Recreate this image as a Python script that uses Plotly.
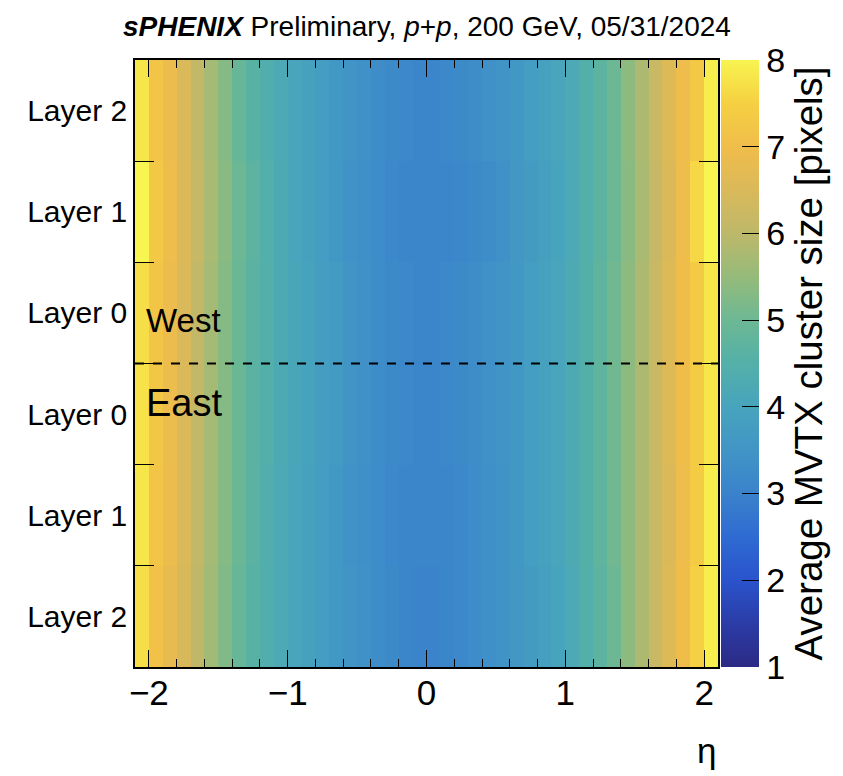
import plotly.graph_objects as go

# eta bin centres (bin width 0.1, range -2.1 .. 2.1)
eta_centers = [-2.05, -1.95, -1.85, -1.75, -1.65, -1.55, -1.45, -1.35, -1.25, -1.15, -1.05,
               -0.95, -0.85, -0.75, -0.65, -0.55, -0.45, -0.35, -0.25, -0.15, -0.05,
               0.05, 0.15, 0.25, 0.35, 0.45, 0.55, 0.65, 0.75, 0.85, 0.95,
               1.05, 1.15, 1.25, 1.35, 1.45, 1.55, 1.65, 1.75, 1.85, 1.95, 2.05]

row_labels = ["Layer 2", "Layer 1", "Layer 0", "Layer 0", "Layer 1", "Layer 2"]  # bottom -> top

east_layer2 = [7.7, 7.1, 6.8, 6.45, 6.05, 5.65, 5.25, 4.9, 4.6, 4.4, 4.2,
               4.05, 3.9, 3.75, 3.6, 3.5, 3.4, 3.3, 3.2, 3.1, 3.05,
               3.05, 3.1, 3.15, 3.25, 3.35, 3.45, 3.55, 3.7, 3.85, 4.0,
               4.2, 4.45, 4.7, 5.0, 5.4, 5.8, 6.2, 6.6, 7.0, 7.5, 7.9]
east_layer1 = [7.8, 7.2, 6.9, 6.5, 6.1, 5.7, 5.3, 4.95, 4.65, 4.4, 4.2,
               4.05, 3.9, 3.75, 3.6, 3.45, 3.35, 3.25, 3.15, 3.1, 3.08,
               3.08, 3.1, 3.15, 3.25, 3.35, 3.45, 3.6, 3.75, 3.9, 4.05,
               4.25, 4.5, 4.75, 5.05, 5.4, 5.8, 6.2, 6.55, 6.95, 7.4, 7.9]
east_layer0 = [7.75, 7.25, 6.9, 6.5, 6.1, 5.7, 5.3, 4.95, 4.65, 4.45, 4.25,
               4.1, 3.95, 3.8, 3.65, 3.5, 3.4, 3.3, 3.2, 3.15, 3.1,
               3.1, 3.15, 3.2, 3.3, 3.4, 3.5, 3.6, 3.75, 3.9, 4.05,
               4.25, 4.5, 4.75, 5.05, 5.4, 5.8, 6.2, 6.6, 7.0, 7.4, 7.8]
west_layer0 = [7.7, 7.2, 6.9, 6.5, 6.1, 5.7, 5.3, 4.95, 4.65, 4.45, 4.25,
               4.1, 3.95, 3.8, 3.65, 3.5, 3.4, 3.3, 3.2, 3.15, 3.1,
               3.1, 3.15, 3.2, 3.3, 3.4, 3.5, 3.6, 3.75, 3.9, 4.05,
               4.25, 4.5, 4.75, 5.05, 5.4, 5.8, 6.2, 6.6, 7.0, 7.35, 7.8]
west_layer1 = [8.0, 7.3, 6.95, 6.55, 6.15, 5.75, 5.35, 5.0, 4.7, 4.45, 4.25,
               4.05, 3.9, 3.75, 3.6, 3.45, 3.35, 3.25, 3.15, 3.1, 3.07,
               3.07, 3.1, 3.12, 3.2, 3.3, 3.4, 3.55, 3.7, 3.85, 4.0,
               4.2, 4.45, 4.7, 5.0, 5.35, 5.75, 6.15, 6.55, 6.95, 7.6, 8.0]
west_layer2 = [7.8, 7.2, 6.9, 6.5, 6.1, 5.7, 5.3, 4.9, 4.6, 4.4, 4.2,
               4.05, 3.9, 3.75, 3.6, 3.5, 3.4, 3.3, 3.2, 3.15, 3.1,
               3.1, 3.15, 3.2, 3.3, 3.4, 3.5, 3.6, 3.75, 3.9, 4.05,
               4.2, 4.45, 4.7, 5.0, 5.4, 5.8, 6.2, 6.6, 6.95, 7.3, 7.9]

z_rows = [east_layer2, east_layer1, east_layer0, west_layer0, west_layer1, west_layer2]

cb_values = [1, 1.5, 2, 2.5, 3, 3.5, 4, 4.5, 5, 5.5, 6, 6.5, 7, 7.5, 8]
cb_colors = ["#2c2a85", "#2b3ca6", "#2a53cc", "#2f6bd2", "#3a82cb", "#4195c6", "#47a4bd",
             "#53b0a8", "#6db894", "#95bb7a", "#bdb86a", "#dab95a", "#f0bd4a", "#f5d042", "#f8f450"]
colorscale = [[(v - 1) / 7, c] for v, c in zip(cb_values, cb_colors)]

FONT = "Liberation Sans, Arial, Helvetica, sans-serif"

fig = go.Figure()
fig.add_trace(go.Heatmap(
    x=eta_centers, y=list(range(len(row_labels))), z=z_rows,
    zmin=1, zmax=8, colorscale=colorscale, showscale=True,
    colorbar=dict(
        x=1.006, xanchor="left", xpad=0, y=0.5, yanchor="middle", len=1, lenmode="fraction",
        ypad=0, thickness=38, outlinewidth=0,
        ticks="inside", ticklen=17, tickcolor="black", tickwidth=1.2,
        tickvals=[1, 2, 3, 4, 5, 6, 7, 8],
        tickfont=dict(family=FONT, size=34, color="black"),
        title=dict(text="Average MVTX cluster size [pixels]", side="right",
                   font=dict(family=FONT, size=38.5, color="black")),
    ),
    hoverinfo="skip",
))

fig.update_xaxes(
    range=[-2.1, 2.1], tickvals=[-2, -1, 0, 1, 2], ticktext=["\u22122", "\u22121", "0", "1", "2"],
    ticks="inside", ticklen=17, tickwidth=1.3, tickcolor="black",
    minor=dict(dtick=0.2, tick0=0, ticks="inside", ticklen=8, tickwidth=1.2, tickcolor="black"),
    showline=True, linecolor="black", linewidth=1.5, mirror="ticks",
    showgrid=False, zeroline=False, automargin=False, ticklabelstandoff=-6,
    tickfont=dict(family=FONT, size=35, color="black"),
)
fig.update_yaxes(
    range=[-0.5, 5.5], tickvals=list(range(len(row_labels))), ticktext=row_labels,
    ticks="", showline=True, linecolor="black", linewidth=1.5, mirror="ticks",
    minor=dict(tickmode="array", tickvals=[0.5, 1.5, 2.5, 3.5, 4.5], ticks="inside",
               ticklen=19, tickwidth=1.2, tickcolor="black"),
    showgrid=False, zeroline=False, automargin=False,
    tickfont=dict(family=FONT, size=30, color="black"),
)

# separator between West and East
fig.add_shape(type="line", xref="x", yref="y", x0=-2.1, x1=2.1, y0=2.5, y1=2.5,
              line=dict(color="black", width=2, dash="dash"))

fig.add_annotation(text="West", xref="paper", yref="y", x=0.015, y=2.93, xanchor="left",
                   yanchor="middle", showarrow=False, font=dict(family=FONT, size=33, color="black"))
fig.add_annotation(text="East", xref="paper", yref="y", x=0.015, y=2.11, xanchor="left",
                   yanchor="middle", showarrow=False, font=dict(family=FONT, size=38, color="black"))

fig.add_annotation(
    text="<b><i>sPHENIX</i></b> Preliminary, <i>p</i>+<i>p</i>, 200 GeV, 05/31/2024",
    xref="paper", yref="paper", x=0.5, y=1.0, yshift=51, xanchor="center", yanchor="top",
    showarrow=False, font=dict(family="Liberation Sans Narrow, Liberation Sans, Arial", size=28, color="black"))

fig.add_annotation(text="\u03b7", xref="paper", yref="paper", x=1.0, y=0, yshift=-62,
                   xanchor="right", yanchor="top", showarrow=False,
                   font=dict(family=FONT, size=35, color="black"))

# page body adds an 8 px margin, so the figure is sized/placed to compensate
fig.update_layout(
    width=835, height=768,
    margin=dict(l=127, r=125, t=52, b=109),
    paper_bgcolor="white", plot_bgcolor="white",
    showlegend=False,
)

fig.write_html("out.html")
